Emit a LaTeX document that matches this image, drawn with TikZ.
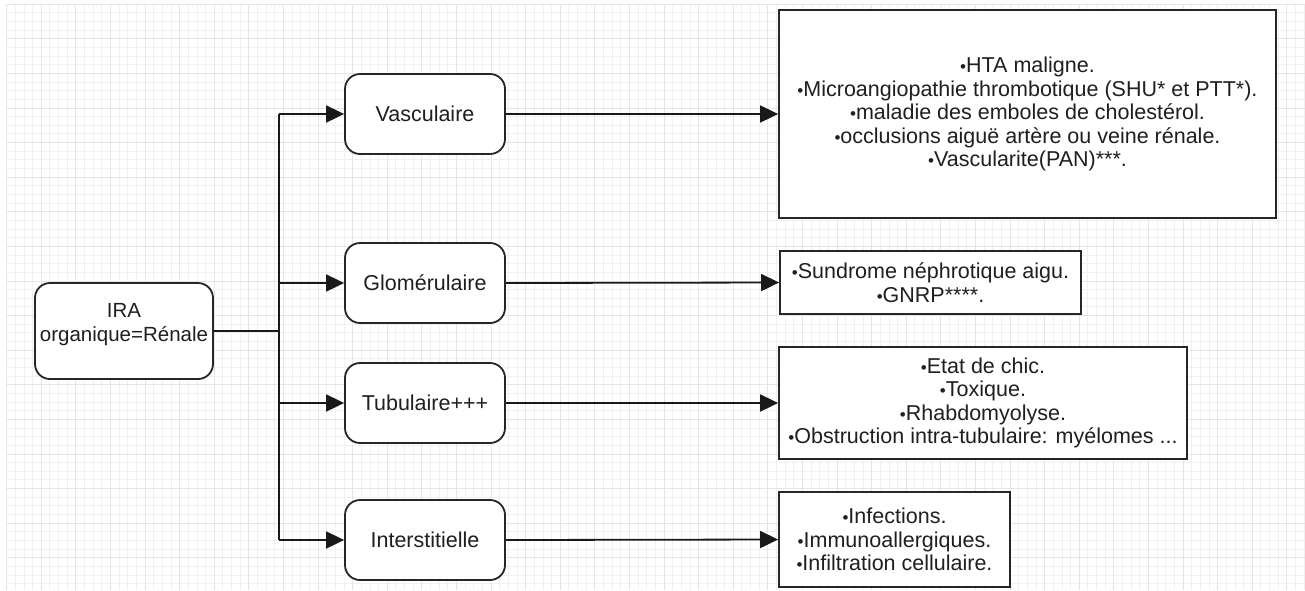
\documentclass[tikz,border=0pt]{standalone}
\usepackage{fontspec}
\setmainfont{Liberation Sans}
\usetikzlibrary{arrows.meta}
\newcommand{\bul}{{\fontsize{17}{17}\selectfont •}}
\tikzset{
  gridminor/.style={draw=black!6, line width=0.6pt},
  gridmajor/.style={draw=black!10, line width=0.6pt},
  txt/.style={font=\fontsize{21.5}{23.5}\selectfont, text=black!88, align=center},
  midbox/.style={txt, draw=black!85, line width=1.8pt, fill=white, rounded corners=15pt,
    minimum width=160pt, minimum height=80pt, inner sep=0pt},
  resbox/.style={txt, draw=black!85, line width=1.8pt, fill=white, inner sep=0pt},
  wire/.style={draw=black!90, line width=1.8pt},
  arr/.style={wire, -{Triangle[length=18pt,width=17pt]}},
}
\begin{document}
\begin{tikzpicture}[x=1pt,y=-1pt]
\useasboundingbox (0,0) rectangle (1305,590);
\fill[white] (0,0) rectangle (1305,590);
% background grid
\foreach \i in {0,...,150} {
  \pgfmathsetmacro{\gx}{6.5+\i*8.65}
  \draw[gridminor] (\gx,4) -- (\gx,590);
}
\foreach \j in {0,...,67} {
  \pgfmathsetmacro{\gy}{4+\j*8.65}
  \draw[gridminor] (6,\gy) -- (1305,\gy);
}
\foreach \i in {0,...,37} {
  \pgfmathsetmacro{\gx}{6.5+\i*34.6}
  \draw[gridmajor] (\gx,4) -- (\gx,590);
}
\foreach \j in {0,...,16} {
  \pgfmathsetmacro{\gy}{4+\j*34.6}
  \draw[gridmajor] (6,\gy) -- (1305,\gy);
}

% nodes
\node[midbox, minimum width=178pt, minimum height=96pt, font=\fontsize{20.5}{23.5}\selectfont] (ira) at (124,331)
  {IRA\\organique=Rénale\\[-6pt]\mbox{}};
\node[midbox] (vas) at (425,114) {Vasculaire};
\node[midbox] (glo) at (425,283) {Glomérulaire};
\node[midbox] (tub) at (425,403) {Tubulaire+++};
\node[midbox] (int) at (425,540) {Interstitielle};

\node[resbox, minimum width=497pt, minimum height=208pt] (rvas) at (1027.5,114)
  {\bul HTA maligne.\\
   \bul Microangiopathie thrombotique (SHU* et PTT*).\\
   \bul maladie des emboles de cholestérol.\\
   \bul occlusions aiguë artère ou veine rénale.\\
   \bul Vascularite(PAN)***.};
\node[resbox, minimum width=301pt, minimum height=63pt] (rglo) at (930.5,282.5)
  {\bul Sundrome néphrotique aigu.\\ \bul GNRP****.};
\node[resbox, minimum width=408pt, minimum height=112pt] (rtub) at (983,403)
  {\bul Etat de chic.\\ \bul Toxique.\\ \bul Rhabdomyolyse.\\
   \bul Obstruction intra-tubulaire: myélomes ...};
\node[resbox, minimum width=231pt, minimum height=95pt] (rint) at (894.5,539.5)
  {\bul Infections.\\ \bul Immunoallergiques.\\ \bul Infiltration cellulaire.};

% trunk
\coordinate (tv) at (279,114);
\coordinate (tg) at (279,283);
\coordinate (ti) at (279,331);
\coordinate (tt) at (279,403);
\coordinate (tn) at (279,540);

\draw[wire] (ira.east) -- (ti);
\draw[wire] (tv) -- (tn);
\draw[arr] (tv) -- (vas.west);
\draw[arr] (tg) -- (glo.west);
\draw[arr] (tt) -- (tub.west);
\draw[arr] (tn) -- (int.west);

\draw[arr] (vas.east) -- (rvas.west);
\draw[arr] (glo.east) -- (rglo.west);
\draw[arr] (tub.east) -- (rtub.west);
\draw[arr] (int.east) -- (rint.west);
\end{tikzpicture}
\end{document}
